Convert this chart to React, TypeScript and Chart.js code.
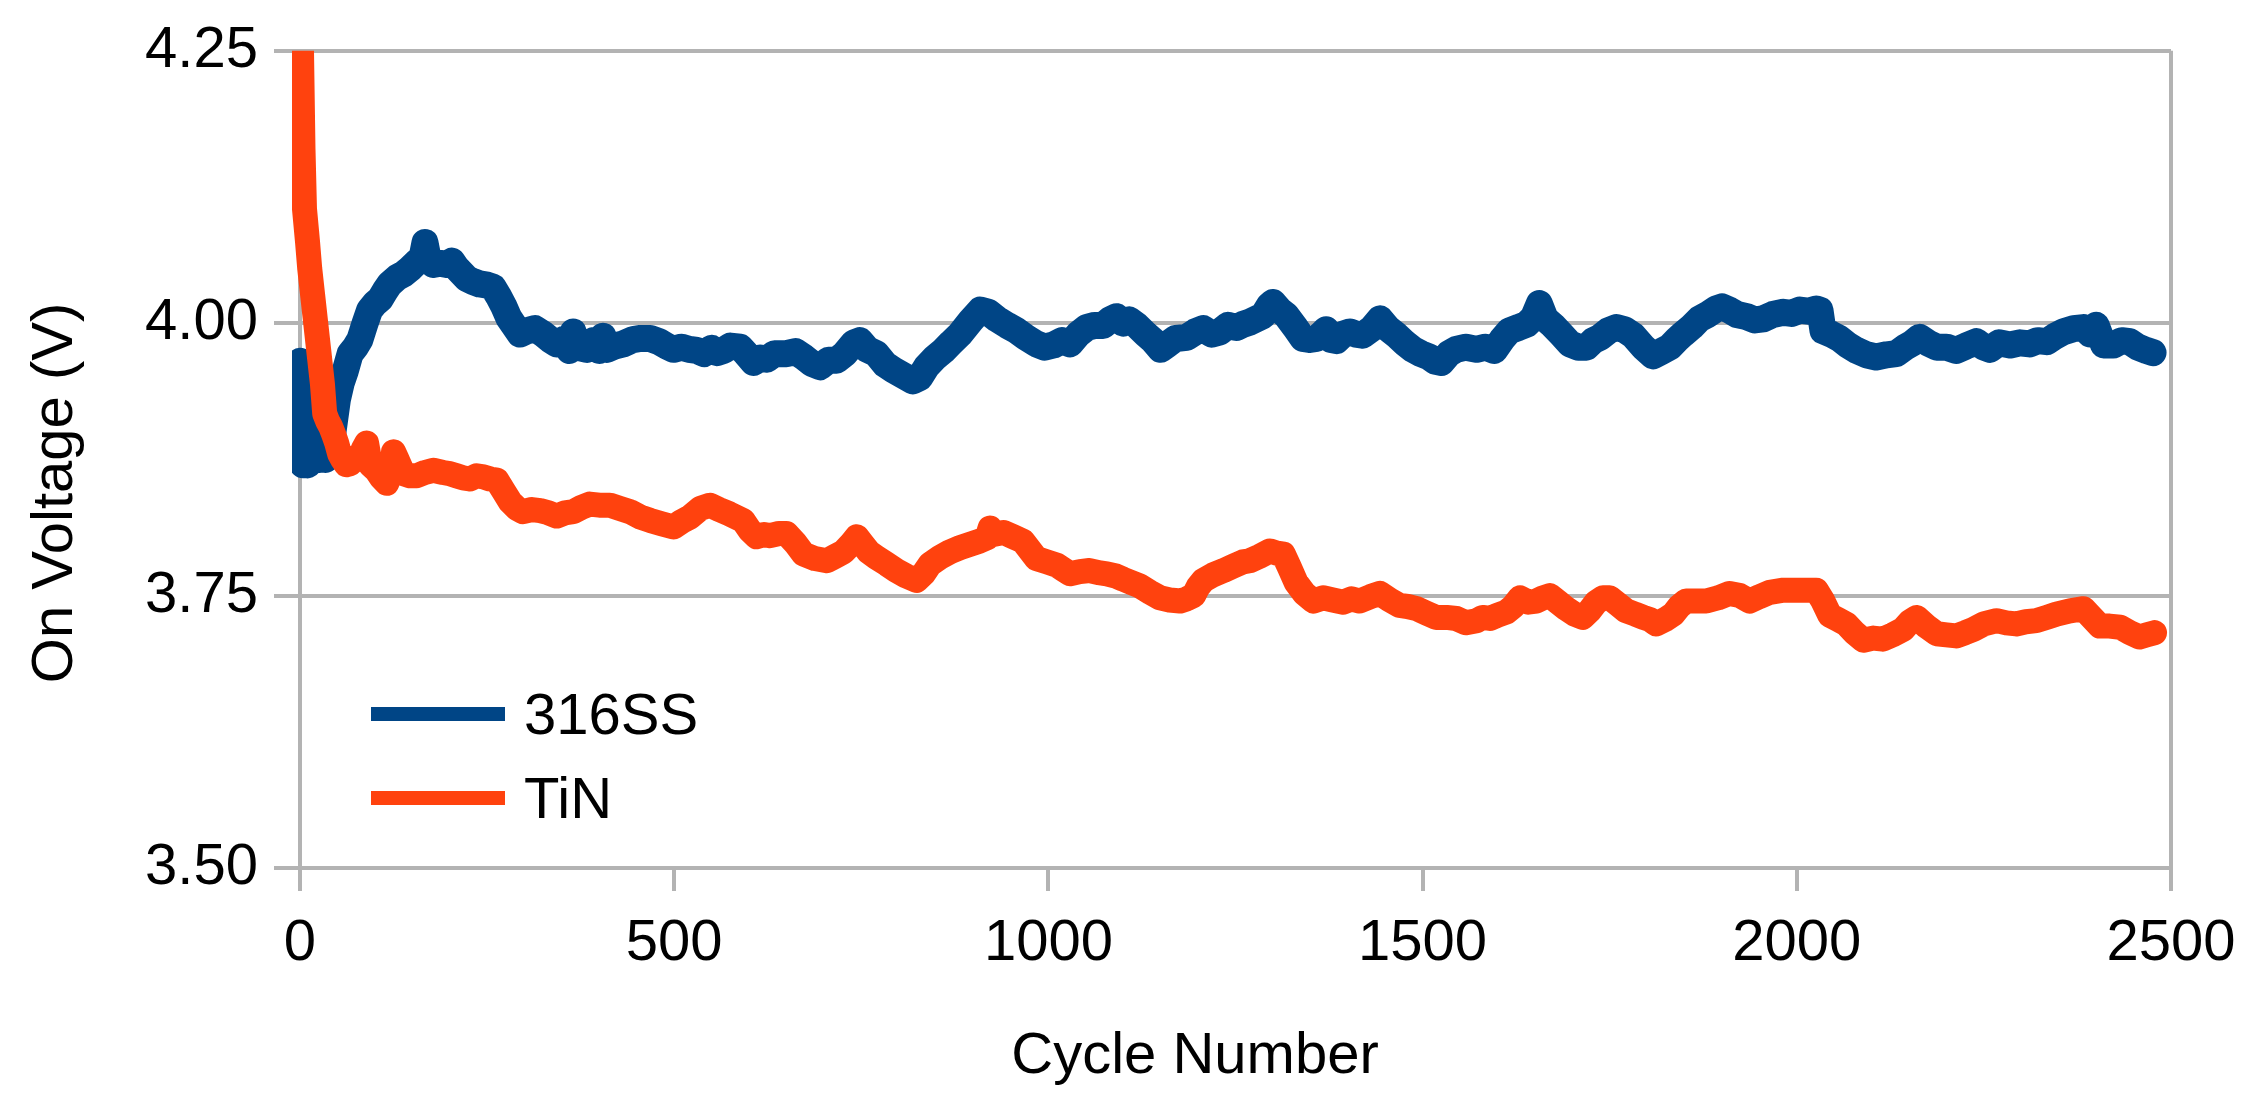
import React, { useEffect, useRef } from "react";
import { Chart, registerables } from "chart.js";

Chart.register(...registerables);

// ---- data ----
const ssCycles = [
  0, 2, 4, 7, 10, 13, 16, 19, 22, 26, 30, 34, 38, 42, 46, 50, 55, 60, 67, 74, 80, 87, 93, 100, 107, 114, 120, 130, 138, 147,
  156, 163, 167, 171, 178, 187, 196, 203, 209, 216, 223, 232, 240, 250, 258, 265, 272, 279, 285, 294, 303, 314, 325, 334, 343,
  352, 360, 365, 370, 383, 392, 400, 405, 410, 420, 432, 445, 455, 468, 480, 490, 499, 510, 520, 530, 540, 550, 557, 566, 575,
  588, 596, 606, 615, 624, 634, 650, 662, 673, 684, 695, 706, 717, 728, 740, 748, 758, 770, 782, 793, 806, 819, 828, 837, 848,
  860, 870, 882, 896, 909, 920, 931, 945, 958, 970, 984, 995, 1007, 1018, 1029, 1040, 1051, 1062, 1073, 1082, 1091, 1100, 1108,
  1118, 1130, 1140, 1150, 1158, 1170, 1185, 1196, 1207, 1218, 1229, 1240, 1251, 1260, 1269, 1278, 1287, 1295, 1300, 1309, 1318,
  1330, 1340, 1349, 1358, 1365, 1371, 1378, 1385, 1394, 1403, 1411, 1420, 1432, 1443, 1454, 1465, 1476, 1487, 1498, 1509, 1517,
  1525, 1535, 1545, 1558, 1572, 1584, 1596, 1606, 1616, 1628, 1639, 1648, 1656, 1664, 1674, 1685, 1697, 1708, 1719, 1728, 1737,
  1748, 1759, 1770, 1781, 1795, 1808, 1819, 1830, 1840, 1848, 1860, 1870, 1881, 1892, 1900, 1910, 1920, 1933, 1944, 1955, 1968,
  1982, 1993, 2004, 2015, 2026, 2031, 2035, 2046, 2057, 2068, 2080, 2093, 2106, 2120, 2133, 2145, 2155, 2164, 2175, 2187, 2200,
  2213, 2226, 2240, 2250, 2258, 2270, 2285, 2298, 2311, 2322, 2334, 2345, 2356, 2370, 2383, 2392, 2400, 2410, 2423, 2434, 2445,
  2456, 2467, 2476,
];
const ssVolts = [
  3.965, 3.9, 3.87, 3.875, 3.87, 3.935, 3.945, 3.9, 3.88, 3.875, 3.88, 3.875, 3.885, 3.89, 3.91, 3.93, 3.945, 3.955, 3.972, 3.978,
  3.985, 4.0, 4.012, 4.018, 4.022, 4.03, 4.036, 4.042, 4.045, 4.05, 4.056, 4.06, 4.074, 4.06, 4.054, 4.055, 4.054, 4.057, 4.051,
  4.046, 4.041, 4.038, 4.036, 4.035, 4.033, 4.025, 4.016, 4.005, 3.999, 3.99, 3.993, 3.995, 3.99, 3.985, 3.981, 3.985, 3.975,
  3.992, 3.978, 3.976, 3.984, 3.975, 3.988, 3.976, 3.979, 3.981, 3.985, 3.986, 3.986, 3.983, 3.979, 3.976, 3.978, 3.976, 3.975,
  3.972, 3.977, 3.973, 3.975, 3.979, 3.978, 3.972, 3.964, 3.968, 3.967, 3.972, 3.972, 3.974, 3.969, 3.963, 3.96, 3.966, 3.966,
  3.972, 3.982, 3.984, 3.976, 3.972, 3.962, 3.957, 3.952, 3.947, 3.95, 3.96, 3.968, 3.975, 3.982, 3.99, 4.002, 4.012, 4.01,
  4.004, 3.998, 3.993, 3.987, 3.981, 3.978, 3.98, 3.984, 3.981, 3.99, 3.996, 3.998, 3.998, 4.003, 4.006, 4.0, 4.003, 3.998,
  3.99, 3.984, 3.976, 3.98, 3.986, 3.987, 3.992, 3.995, 3.99, 3.992, 3.998, 3.996, 3.999, 4.001, 4.004, 4.007, 4.016, 4.019,
  4.012, 4.007, 3.996, 3.986, 3.985, 3.986, 3.99, 3.994, 3.985, 3.984, 3.99, 3.992, 3.99, 3.989, 3.995, 4.004, 3.995, 3.989,
  3.982, 3.976, 3.972, 3.969, 3.965, 3.964, 3.972, 3.976, 3.978, 3.976, 3.978, 3.975, 3.985, 3.993, 3.996, 3.999, 4.005, 4.018,
  4.004, 3.998, 3.99, 3.981, 3.978, 3.978, 3.984, 3.987, 3.993, 3.996, 3.994, 3.989, 3.978, 3.97, 3.974, 3.978, 3.985, 3.99,
  3.997, 4.004, 4.008, 4.013, 4.015, 4.012, 4.008, 4.006, 4.003, 4.004, 4.008, 4.01, 4.009, 4.012, 4.011, 4.013, 4.012, 3.993,
  3.99, 3.986, 3.98, 3.975, 3.971, 3.969, 3.971, 3.972, 3.978, 3.982, 3.987, 3.982, 3.978, 3.978, 3.975, 3.979, 3.983, 3.978,
  3.976, 3.982, 3.98, 3.982, 3.981, 3.984, 3.983, 3.988, 3.992, 3.995, 3.996, 3.99, 3.998, 3.98, 3.98, 3.984, 3.983, 3.978, 3.975,
  3.973,
];

const tinCycles = [
  0, 2, 4, 6, 10, 13, 17, 21, 25, 30, 33, 37, 41, 45, 49, 53, 57, 62, 67, 73, 80, 85, 89, 94, 102, 109, 116, 121, 125, 129, 138,
  147, 156, 167, 178, 191, 200, 209, 218, 227, 236, 245, 254, 263, 272, 281, 290, 298, 310, 321, 332, 343, 354, 365, 376, 387,
  400, 414, 427, 441, 455, 468, 483, 499, 510, 521, 535, 548, 560, 574, 583, 592, 601, 610, 620, 628, 640, 650, 662, 673, 688,
  704, 715, 726, 737, 744, 752, 760, 770, 784, 797, 810, 824, 833, 842, 855, 868, 882, 895, 908, 918, 922, 926, 940, 953, 966,
  975, 984, 998, 1011, 1020, 1029, 1042, 1055, 1067, 1078, 1090, 1100, 1111, 1122, 1136, 1149, 1162, 1176, 1185, 1194, 1200,
  1207, 1220, 1234, 1247, 1260, 1269, 1282, 1296, 1305, 1314, 1322, 1331, 1342, 1354, 1367, 1380, 1394, 1405, 1416, 1430, 1443,
  1456, 1469, 1480, 1492, 1505, 1518, 1532, 1545, 1558, 1572, 1580, 1590, 1600, 1612, 1621, 1630, 1641, 1652, 1661, 1670, 1681,
  1692, 1703, 1714, 1723, 1732, 1741, 1750, 1761, 1772, 1784, 1795, 1804, 1812, 1824, 1835, 1843, 1852, 1865, 1879, 1895, 1910,
  1924, 1937, 1950, 1964, 1982, 2000, 2013, 2026, 2035, 2044, 2055, 2066, 2077, 2089, 2102, 2115, 2128, 2142, 2151, 2160, 2173,
  2187, 2200, 2213, 2225, 2236, 2250, 2267, 2280, 2293, 2306, 2320, 2334, 2347, 2365, 2383, 2394, 2405, 2418, 2432, 2445, 2458,
  2468, 2478,
];
const tinVolts = [
  4.34, 4.25, 4.16, 4.105, 4.075, 4.05, 4.025, 4.0, 3.975, 3.944, 3.917, 3.91, 3.905, 3.898, 3.89, 3.88, 3.875, 3.87, 3.871,
  3.876, 3.877, 3.885, 3.89, 3.87, 3.865, 3.858, 3.853, 3.862, 3.882, 3.876, 3.862, 3.86, 3.86, 3.863, 3.865, 3.863, 3.862,
  3.86, 3.858, 3.857, 3.86, 3.859, 3.857, 3.856, 3.846, 3.836, 3.83, 3.827, 3.829, 3.828, 3.826, 3.823, 3.826, 3.827, 3.831,
  3.834, 3.833, 3.833, 3.83, 3.827, 3.822, 3.819, 3.816, 3.813, 3.818, 3.822, 3.83, 3.833, 3.829, 3.825, 3.822, 3.819, 3.81,
  3.804, 3.806, 3.805, 3.807, 3.807, 3.798, 3.788, 3.784, 3.782, 3.786, 3.79, 3.798, 3.804, 3.797, 3.79, 3.785, 3.779, 3.773,
  3.768, 3.764, 3.77, 3.779, 3.785, 3.79, 3.794, 3.797, 3.8, 3.803, 3.812, 3.806, 3.808, 3.804, 3.8, 3.792, 3.784, 3.781, 3.778,
  3.774, 3.77, 3.772, 3.773, 3.771, 3.77, 3.768, 3.765, 3.762, 3.759, 3.753, 3.748, 3.746, 3.745, 3.747, 3.75, 3.758, 3.764,
  3.769, 3.773, 3.777, 3.781, 3.782, 3.786, 3.791, 3.789, 3.788, 3.776, 3.762, 3.752, 3.745, 3.748, 3.746, 3.744, 3.747, 3.745,
  3.749, 3.752, 3.746, 3.741, 3.74, 3.738, 3.734, 3.73, 3.73, 3.729, 3.725, 3.727, 3.73, 3.729, 3.732, 3.735, 3.74, 3.748,
  3.744, 3.745, 3.748, 3.75, 3.744, 3.738, 3.733, 3.73, 3.736, 3.744, 3.748, 3.748, 3.742, 3.736, 3.733, 3.73, 3.728, 3.724,
  3.728, 3.733, 3.74, 3.745, 3.745, 3.745, 3.748, 3.752, 3.75, 3.745, 3.749, 3.753, 3.755, 3.755, 3.755, 3.755, 3.745, 3.732,
  3.728, 3.724, 3.716, 3.709, 3.711, 3.71, 3.714, 3.719, 3.726, 3.73, 3.722, 3.715, 3.714, 3.713, 3.716, 3.719, 3.724, 3.727,
  3.725, 3.724, 3.726, 3.727, 3.73, 3.733, 3.736, 3.738, 3.73, 3.722, 3.722, 3.721, 3.716, 3.712, 3.714, 3.716,
];

const seriesNames = ["316SS", "TiN"];
const seriesColors = ["#004586", "#ff420e"];
const xTicks = [0, 500, 1000, 1500, 2000, 2500];
const yTicks = [3.5, 3.75, 4.0, 4.25];
const xTitle = "Cycle Number";
const yTitle = "On Voltage (V)";

const FONT = "'Liberation Sans', Arial, sans-serif";
const GRID = "#b3b3b3";

const W = 2260;
const H = 1102;

const overlayPlugin = {
  id: "overlay",
  afterDraw(chart: any) {
    const ctx = chart.ctx;
    ctx.save();
    ctx.fillStyle = "#000";
    ctx.font = `58px ${FONT}`;
    // x title
    ctx.textAlign = "center";
    ctx.textBaseline = "alphabetic";
    ctx.fillText(xTitle, 1195, 1073);
    // y title
    ctx.save();
    ctx.translate(72, 493);
    ctx.rotate(-Math.PI / 2);
    ctx.fillText(yTitle, 0, 0);
    ctx.restore();
    // legend
    ctx.textAlign = "left";
    const rows = [714, 798];
    seriesNames.forEach((name, i) => {
      ctx.fillStyle = seriesColors[i];
      ctx.fillRect(371, rows[i] - 7, 134, 14);
      ctx.fillStyle = "#000";
      ctx.fillText(name, 524, rows[i] + 20);
    });
    ctx.restore();
  },
};

export default function App() {
  const ref = useRef<HTMLCanvasElement | null>(null);

  useEffect(() => {
    if (!ref.current) return;
    const lineCommon = {
      pointRadius: 0,
      tension: 0,
      borderJoinStyle: "round" as const,
      borderCapStyle: "round" as const,
      clip: { left: 8, right: 8, top: 0, bottom: 0 } as any,
    };
    const chart = new Chart(ref.current, {
      type: "line",
      data: {
        datasets: [
          {
            label: seriesNames[0],
            data: ssCycles.map((c, i) => ({ x: c, y: ssVolts[i] })),
            borderColor: seriesColors[0],
            backgroundColor: seriesColors[0],
            borderWidth: 27,
            order: 1,
            ...lineCommon,
          },
          {
            label: seriesNames[1],
            data: tinCycles.map((c, i) => ({ x: c, y: tinVolts[i] })),
            borderColor: seriesColors[1],
            backgroundColor: seriesColors[1],
            borderWidth: 25,
            order: 0,
            ...lineCommon,
          },
        ],
      },
      options: {
        animation: false,
        responsive: false,
        devicePixelRatio: 1,
        layout: { padding: { top: 50, right: 89, left: 0, bottom: 0 } },
        plugins: { legend: { display: false }, tooltip: { enabled: false }, title: { display: false } },
        scales: {
          x: {
            type: "linear",
            min: 0,
            max: 2500,
            afterFit: (s: any) => {
              s.height = H - 868;
            },
            afterBuildTicks: (s: any) => {
              s.ticks = xTicks.map((v) => ({ value: v }));
            },
            ticks: {
              font: { family: FONT, size: 58 },
              color: "#000",
              padding: 18,
              maxRotation: 0,
              autoSkip: false,
              callback: (v: any) => String(v),
            },
            grid: {
              color: (c: any) => (c.tick && c.tick.value === 2500 ? GRID : "rgba(0,0,0,0)"),
              tickColor: GRID,
              lineWidth: 4,
              tickLength: 23,
              drawTicks: true,
            },
            border: { display: true, color: GRID, width: 4 },
          },
          y: {
            type: "linear",
            min: 3.5,
            max: 4.25,
            afterFit: (s: any) => {
              s.width = 300;
            },
            afterBuildTicks: (s: any) => {
              s.ticks = yTicks.map((v) => ({ value: v }));
            },
            ticks: {
              font: { family: FONT, size: 58 },
              color: "#000",
              padding: 16,
              callback: (v: any) => Number(v).toFixed(2),
            },
            grid: {
              color: GRID,
              lineWidth: 4,
              tickLength: 26,
              drawTicks: true,
            },
            border: { display: true, color: GRID, width: 4 },
          },
        },
      },
      plugins: [overlayPlugin],
    });
    return () => chart.destroy();
  }, []);

  return (
    <div style={{ position: "fixed", left: 0, top: 0, width: W, height: H, background: "#fff" }}>
      <canvas ref={ref} width={W} height={H} style={{ width: W, height: H, display: "block" }} />
    </div>
  );
}
